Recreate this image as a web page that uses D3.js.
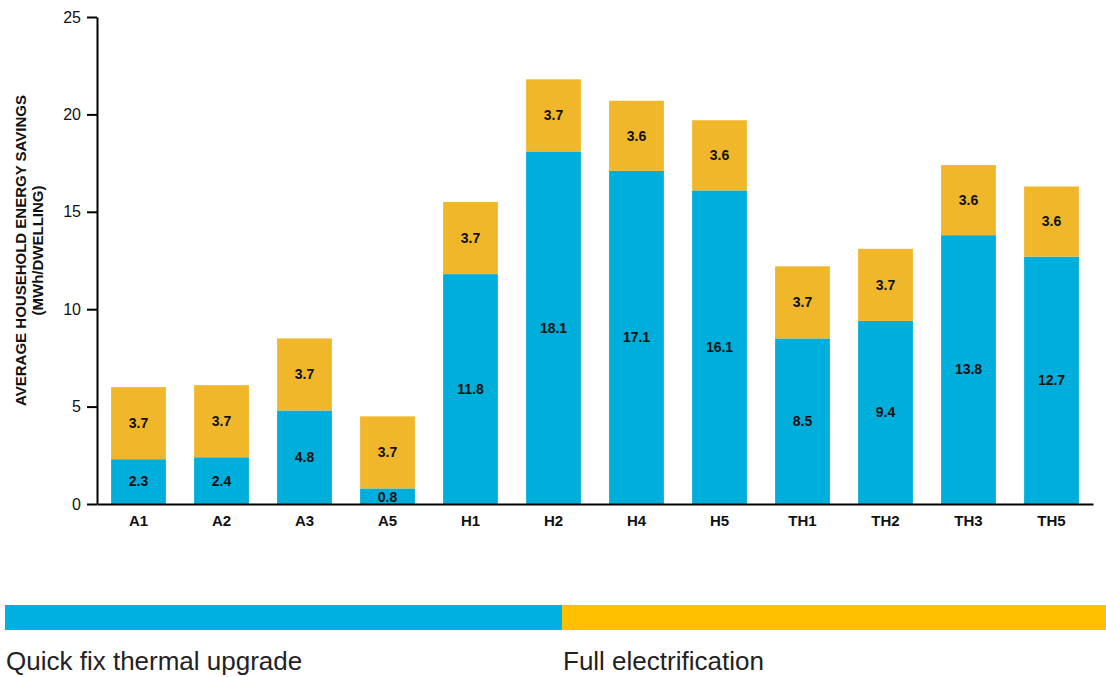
<!DOCTYPE html>
<html>
<head>
<meta charset="utf-8">
<script src="https://cdn.jsdelivr.net/npm/d3@7"></script>
<style>
  body { margin: 0; background: #fff; }
  text { font-family: "Liberation Sans", Arial, sans-serif; }
</style>
</head>
<body>
<div id="chart"></div>
<script>
const categories = ["A1", "A2", "A3", "A5", "H1", "H2", "H4", "H5", "TH1", "TH2", "TH3", "TH5"];
const thermal = [2.3, 2.4, 4.8, 0.8, 11.8, 18.1, 17.1, 16.1, 8.5, 9.4, 13.8, 12.7];
const electrification = [3.7, 3.7, 3.7, 3.7, 3.7, 3.7, 3.6, 3.6, 3.7, 3.7, 3.6, 3.6];
const seriesNames = ["Quick fix thermal upgrade", "Full electrification"];
const yTicks = [0, 5, 10, 15, 20, 25];

(function savings_chart() {
  const width = 1106,
    height = 677,
    margin = { top: 17, right: 13, bottom: 173, left: 97 };

  const svg = d3.select("#chart")
    .append("svg")
    .attr("width", width)
    .attr("height", height);

  const data = categories.map((c, i) => ({ cat: c, thermal: thermal[i], elec: electrification[i] }));
  const keys = ["thermal", "elec"];
  const color = d3.scaleOrdinal(keys, ["#00AEDB", "#F0B72B"]);

  const x = d3.scaleBand(categories, [margin.left, width - margin.right])
    .paddingInner(0.34)
    .paddingOuter(0.17);

  const y = d3.scaleLinear([0, 25], [height - margin.bottom, margin.top]);

  const stacked = d3.stack().keys(keys)(data);

  const g = svg.append("g")
    .selectAll("g")
    .data(stacked)
    .join("g")
    .attr("fill", d => color(d.key));

  g.selectAll("rect")
    .data(d => d)
    .join("rect")
    .attr("x", d => x(d.data.cat))
    .attr("y", d => y(d[1]))
    .attr("width", x.bandwidth())
    .attr("height", d => y(d[0]) - y(d[1]));

  g.selectAll("text")
    .data(d => d)
    .join("text")
    .attr("fill", "#111")
    .attr("font-size", 14)
    .attr("font-weight", "bold")
    .attr("text-anchor", "middle")
    .attr("dy", "0.35em")
    .attr("x", d => x(d.data.cat) + x.bandwidth() / 2)
    .attr("y", d => d[1] - d[0] < 1.5 ? (y(d[0]) + y(d[1])) / 2 + 1 : (y(d[0]) + y(d[1])) / 2)
    .text(d => (d[1] - d[0]).toFixed(1));

  // y axis
  const yAxis = svg.append("g")
    .attr("transform", `translate(${margin.left},0)`)
    .call(d3.axisLeft(y).tickValues(yTicks).tickSize(10).tickSizeOuter(0));
  yAxis.select(".domain").attr("stroke", "#000").attr("stroke-width", 2);
  yAxis.selectAll(".tick line").attr("stroke", "#000").attr("stroke-width", 2);
  yAxis.selectAll(".tick text")
    .attr("font-size", 16)
    .attr("fill", "#111")
    .attr("x", -16)
    .style("font-family", "'Liberation Sans', Arial, sans-serif");

  // x axis
  const xAxis = svg.append("g")
    .attr("transform", `translate(0,${height - margin.bottom})`)
    .call(d3.axisBottom(x).tickSize(0).tickSizeOuter(0));
  xAxis.select(".domain").attr("stroke", "#000").attr("stroke-width", 2);
  xAxis.selectAll(".tick text")
    .attr("font-size", 15)
    .attr("font-weight", "bold")
    .attr("fill", "#111")
    .attr("dy", "1.25em")
    .style("font-family", "'Liberation Sans', Arial, sans-serif");

  // y label
  const yLabel = svg.append("text")
    .attr("text-anchor", "middle")
    .attr("transform", `translate(26,${(margin.top + height - margin.bottom) / 2 - 10}) rotate(-90)`)
    .attr("font-size", 15)
    .attr("font-weight", "bold")
    .attr("fill", "#111");
  yLabel.append("tspan").attr("x", 0).attr("dy", 0).text("AVERAGE HOUSEHOLD ENERGY SAVINGS");
  yLabel.append("tspan").attr("x", 0).attr("dy", 17).text("(MWh/DWELLING)");

  // legend bar
  const legendX = d3.scaleBand(seriesNames, [5, 1119]);
  const legendColor = d3.scaleOrdinal(seriesNames, ["#00B0E0", "#FFC000"]);

  svg.selectAll(".legend-bar")
    .data(seriesNames)
    .join("rect")
    .attr("class", "legend-bar")
    .attr("x", d => legendX(d))
    .attr("y", 605)
    .attr("width", legendX.bandwidth())
    .attr("height", 25)
    .attr("fill", d => legendColor(d));

  svg.selectAll(".legend-text")
    .data(seriesNames)
    .join("text")
    .attr("class", "legend-text")
    .attr("x", d => legendX(d) + 1)
    .attr("y", 670)
    .attr("font-size", 26)
    .attr("fill", "#222")
    .style("font-family", "'Liberation Sans Narrow', 'Arial Narrow', 'Liberation Sans', sans-serif")
    .text(d => d);
})();
</script>
</body>
</html>
